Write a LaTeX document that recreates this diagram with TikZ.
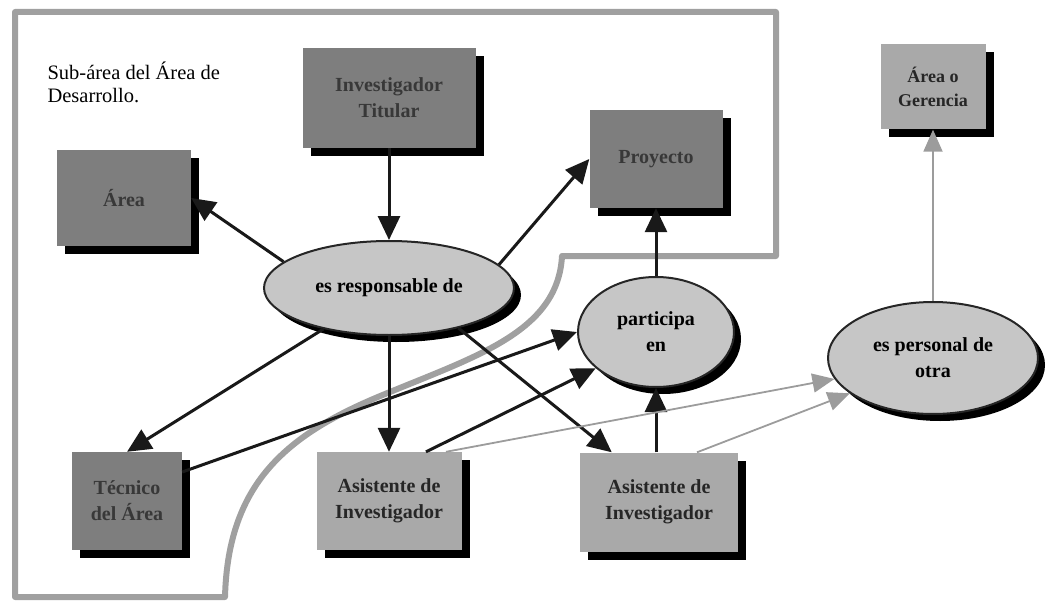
\documentclass[tikz,border=0pt]{standalone}
\usepackage{fontspec}
\setmainfont{Liberation Serif}
\usetikzlibrary{arrows.meta,shapes.geometric,shadows,calc}
\definecolor{framegray}{HTML}{A0A0A0}
\definecolor{boxdark}{HTML}{7E7E7E}
\definecolor{boxlight}{HTML}{A9A9A9}
\definecolor{ovalfill}{HTML}{C6C6C6}
\definecolor{textdark}{HTML}{383838}
\definecolor{linkgray}{HTML}{9C9C9C}
\begin{document}
\begin{tikzpicture}[x=1pt,y=-1pt,
  boxbase/.style={rectangle, draw=none, align=center, inner sep=0pt,
    font=\fontsize{20}{26}\selectfont\bfseries,
    general shadow={fill=black, shadow xshift=8pt, shadow yshift=-8pt}},
  darkbox/.style={boxbase, fill=boxdark, text=textdark},
  lightbox/.style={boxbase, fill=boxlight, text=black!85},
  oval/.style={ellipse, draw=black!85, line width=2pt, fill=ovalfill,
    align=center, inner sep=0pt, font=\fontsize{20}{26}\selectfont\bfseries,
    general shadow={fill=black, shadow xshift=7pt, shadow yshift=-7pt}},
  conn/.style={line width=3pt, draw=black!90,
    -{Triangle[length=24pt,width=22pt]}},
  faint/.style={line width=1.8pt, draw=linkgray,
    -{Triangle[length=22pt,width=19pt,fill=linkgray]}},
  framepath/.style={draw=framegray, line width=6pt, line join=round}
]
\useasboundingbox (0,0) rectangle (1046,604);

% boundary of the sub-area
\draw[framepath] (15,12) -- (776,12) -- (776,256) -- (562,256)
  .. controls (558,330) and (480,355) .. (390,392)
  .. controls (290,432) and (228,480) .. (225,597)
  -- (15,597) -- cycle;

\node[anchor=north west, align=left, font=\fontsize{20.5}{23}\selectfont]
  (lbl) at (44,58) {Sub-área del Área de\\Desarrollo.};

% concept boxes
\node[darkbox, minimum width=134pt, minimum height=96pt] (area) at (124,198) {Área};
\node[darkbox, minimum width=173pt, minimum height=100pt] (invtit) at (389,98) {Investigador\\Titular};
\node[darkbox, minimum width=133pt, minimum height=98pt] (proy) at (656,159) {Proyecto};
\node[lightbox, minimum width=105pt, minimum height=85pt,
  font=\fontsize{18}{24}\selectfont\bfseries] (geren) at (933,87) {Área o\\Gerencia};
\node[darkbox, minimum width=110pt, minimum height=98pt] (tecnico) at (127,501) {Técnico\\del Área};
\node[lightbox, minimum width=145pt, minimum height=98pt] (asis1) at (389,501) {Asistente de\\Investigador};
\node[lightbox, minimum width=158pt, minimum height=99pt] (asis2) at (659,502) {Asistente de\\Investigador};

% relations
\node[oval, minimum width=250pt, minimum height=94pt] (resp) at (389,288) {es responsable de};
\node[oval, minimum width=156pt, minimum height=110pt] (part) at (656,332) {participa\\en};
\node[oval, minimum width=210pt, minimum height=112pt] (pers) at (933,358) {es personal de\\otra};

% connectors
\draw[conn] (invtit) -- (resp);
\draw[conn] (resp.166) -- (area.east);
\draw[conn] (resp.12) -- (proy.west);
\draw[conn] (resp.212) -- (tecnico.north);
\draw[conn] (resp.south) -- (asis1.north);
\draw[conn] (resp.330) -- ([xshift=32pt]asis2.north west);
\draw[conn] ([yshift=29pt]tecnico.east) -- (part.west);
\draw[conn] ([xshift=37pt]asis1.north) -- (part.211);
\draw[conn] (part.south |- asis2.north) -- (part.south);
\draw[conn] (part.north) -- (proy.south);
\draw[faint] ([xshift=57pt]asis1.north) -- (pers.192);
\draw[faint] ([xshift=38pt]asis2.north) -- (pers.203);
\draw[faint] (pers.north) -- (geren.south);
\end{tikzpicture}
\end{document}
